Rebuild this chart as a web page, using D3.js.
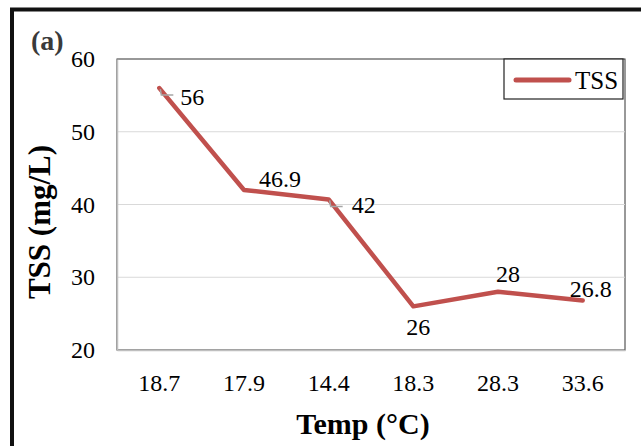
<!DOCTYPE html>
<html>
<head>
<meta charset="utf-8">
<script src="https://cdn.jsdelivr.net/npm/d3@7"></script>
<style>
  body { margin: 0; background: #fff; }
  svg { display: block; font-family: "Liberation Serif", "Times New Roman", serif; }
  svg text { font-family: "Liberation Serif", "Times New Roman", serif; }
</style>
</head>
<body>
<div id="chart"></div>
<script>
// data
var temps = ["18.7", "17.9", "14.4", "18.3", "28.3", "33.6"];
var tss = [56, 42, 40.7, 26, 28, 26.8];
var tssLabels = ["56", "46.9", "42", "26", "28", "26.8"];
var yTicks = [20, 30, 40, 50, 60];

var width = 641, height = 446;
var margin = {top: 59, right: 16, bottom: 96, left: 117};

var svg = d3.select("#chart").append("svg")
  .attr("width", width)
  .attr("height", height);

// outer frame (left + top edges visible)
svg.append("path")
  .attr("d", "M12,446 L12,9.5 L641,9.5")
  .attr("fill", "none")
  .attr("stroke", "#111")
  .attr("stroke-width", 4);

svg.append("text")
  .attr("x", 31).attr("y", 50)
  .attr("font-weight", "bold")
  .attr("font-size", 28)
  .attr("fill", "#3a3a3a")
  .text("(a)");

var x = d3.scaleBand()
  .domain(temps)
  .range([margin.left, width - margin.right]);

var y = d3.scaleLinear()
  .domain([20, 60])
  .range([height - margin.bottom, margin.top]);

// plot frame
svg.append("rect")
  .attr("x", margin.left).attr("y", margin.top)
  .attr("width", width - margin.left - margin.right)
  .attr("height", height - margin.top - margin.bottom)
  .attr("fill", "none")
  .attr("stroke", "#333")
  .attr("stroke-width", 1);

// gridlines
svg.append("g")
  .selectAll("line")
  .data(yTicks.filter(d => d > 20 && d < 60))
  .enter().append("line")
    .attr("x1", margin.left).attr("x2", width - margin.right)
    .attr("y1", d => y(d)).attr("y2", d => y(d))
    .attr("stroke", "#d9d9d9")
    .attr("stroke-width", 1.2);

// axes
var yAxis = svg.append("g")
  .attr("transform", "translate(" + margin.left + ",0)")
  .call(d3.axisLeft(y).tickValues(yTicks).tickSize(0).tickPadding(22));
yAxis.attr("font-family", null);
yAxis.select(".domain").attr("stroke", "#bfbfbf").attr("stroke-width", 1.5);
yAxis.selectAll("text")
  .attr("font-size", 24)
  .attr("fill", "#000");

var xAxis = svg.append("g")
  .attr("transform", "translate(0," + (height - margin.bottom) + ")")
  .call(d3.axisBottom(x).tickSize(0).tickPadding(24));
xAxis.attr("font-family", null);
xAxis.select(".domain").attr("stroke", "#bfbfbf").attr("stroke-width", 1.5);
xAxis.selectAll("text")
  .attr("font-size", 24)
  .attr("fill", "#000");

// axis titles
svg.append("text")
  .attr("x", 363).attr("y", 434)
  .attr("text-anchor", "middle")
  .attr("font-weight", "bold")
  .attr("font-size", 30)
  .text("Temp (\u00B0C)");

svg.append("text")
  .attr("transform", "translate(50,222) rotate(-90)")
  .attr("text-anchor", "middle")
  .attr("font-weight", "bold")
  .attr("font-size", 31)
  .text("TSS (mg/L)");

// line
var pts = temps.map((t, i) => [x(t) + x.bandwidth() / 2, y(tss[i])]);

svg.append("path")
  .datum(pts)
  .attr("d", d3.line())
  .attr("fill", "none")
  .attr("stroke", "#c0504d")
  .attr("stroke-width", 4.5)
  .attr("stroke-linejoin", "round")
  .attr("stroke-linecap", "round");

// leader lines for the labels placed off the point
var leaders = [0, 2];
svg.append("g")
  .selectAll("path")
  .data(leaders)
  .enter().append("path")
    .attr("d", i => {
      var p = pts[i];
      return "M" + (p[0] + 1) + "," + (p[1] + 1) + " L" + (p[0] + 2) + "," + (p[1] + 7) + " L" + (p[0] + 14) + "," + (p[1] + 7);
    })
    .attr("fill", "none")
    .attr("stroke", "#a6a6a6")
    .attr("stroke-width", 1.5);

// data labels
var labelOffsets = [[33, 17], [36, -3], [35, 14], [5, 29], [10, -10], [8, -4]];
svg.append("g")
  .selectAll("text")
  .data(tssLabels)
  .enter().append("text")
    .attr("x", (d, i) => pts[i][0] + labelOffsets[i][0])
    .attr("y", (d, i) => pts[i][1] + labelOffsets[i][1])
    .attr("text-anchor", "middle")
    .attr("font-size", 24)
    .text(d => d);

// legend
var lg = svg.append("g").attr("transform", "translate(504,59)");
lg.append("rect")
  .attr("width", 119).attr("height", 40)
  .attr("fill", "#fff")
  .attr("stroke", "#222")
  .attr("stroke-width", 1.2);
lg.append("line")
  .attr("x1", 12).attr("x2", 65)
  .attr("y1", 21).attr("y2", 21)
  .attr("stroke", "#c0504d")
  .attr("stroke-width", 5)
  .attr("stroke-linecap", "round");
lg.append("text")
  .attr("x", 71).attr("y", 29.5)
  .attr("font-size", 25)
  .text("TSS");
</script>
</body>
</html>
